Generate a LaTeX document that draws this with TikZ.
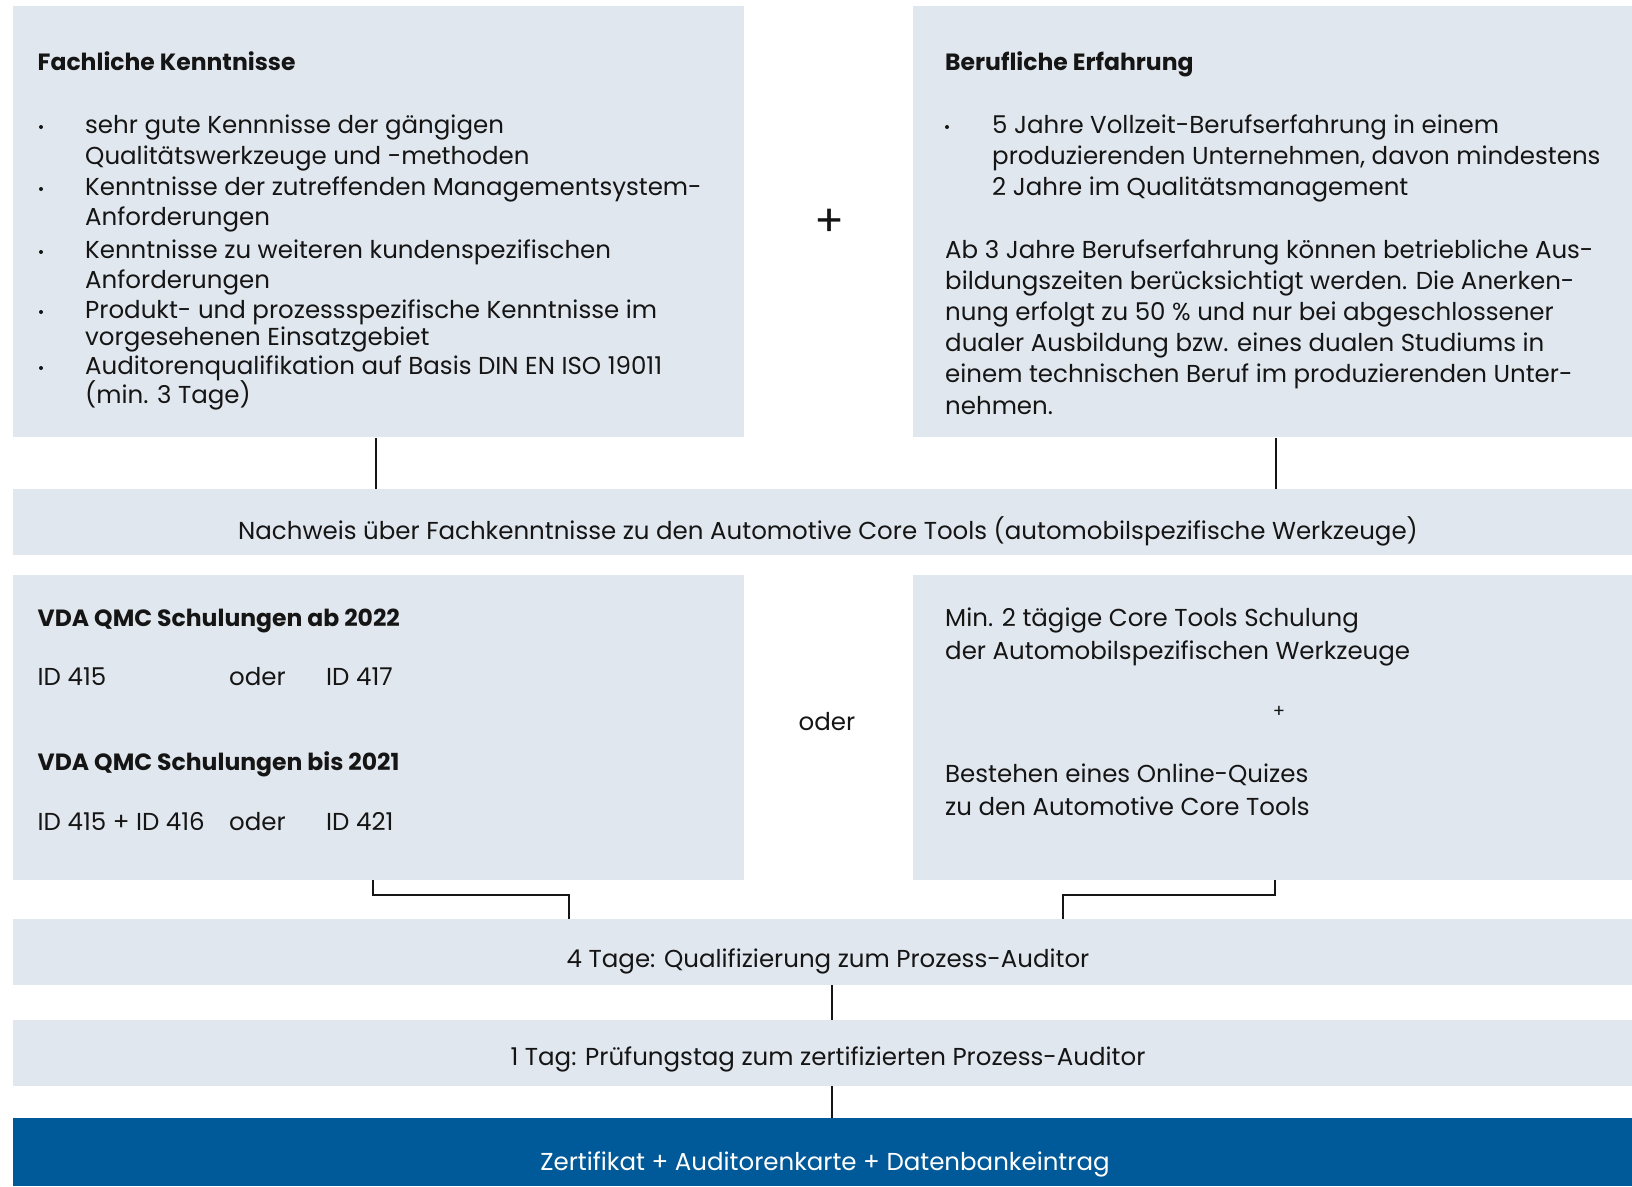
\documentclass[tikz,border=0pt]{standalone}
\usepackage{fontspec}
\setmainfont{Poppins}
\definecolor{boxgray}{HTML}{E1E7EE}
\definecolor{boxblue}{HTML}{005A9A}
\definecolor{ink}{HTML}{151515}
\begin{document}
\begin{tikzpicture}[x=1pt,y=-1pt,
  box/.style={fill=boxgray,draw=none,anchor=north west,inner sep=0pt},
  bluebox/.style={fill=boxblue,draw=none,anchor=north west,inner sep=0pt},
  txt/.style={anchor=base west,inner sep=0pt,text=ink,font=\fontsize{24.5}{30}\selectfont},
  ttl/.style={txt,font=\fontsize{23.5}{30}\selectfont\bfseries},
  ctr/.style={anchor=base,inner sep=0pt,text=ink,font=\fontsize{24.5}{30}\selectfont},
  dot/.style={circle,fill=ink,inner sep=0pt,minimum size=4pt},
  conn/.style={draw=ink,line width=1.6pt}]
\useasboundingbox (0,0) rectangle (1632,1186);
% boxes
\node[box,minimum width=731.5pt,minimum height=431pt] (A) at (12.5,6.2) {};
\node[box,minimum width=719pt,minimum height=431pt] (B) at (913,6.2) {};
\node[box,minimum width=1619.5pt,minimum height=66pt] (C) at (12.5,489) {};
\node[box,minimum width=731.5pt,minimum height=305pt] (D) at (12.5,575) {};
\node[box,minimum width=719pt,minimum height=305pt] (E) at (913,575) {};
\node[box,minimum width=1619.5pt,minimum height=66pt] (F) at (12.5,919) {};
\node[box,minimum width=1619.5pt,minimum height=66pt] (G) at (12.5,1020) {};
\node[bluebox,minimum width=1619.5pt,minimum height=68pt] (H) at (12.5,1118) {};
% box A text
\node[ttl] (a0) at (37.5,70) {Fachliche Kenntnisse};
\node[dot] (ad1) at (41,127) {};
\node[txt] (a1) at (85,133) {sehr gute Kennnisse der gängigen};
\node[txt] (a2) at (85,164) {Qualitätswerkzeuge und -methoden};
\node[dot] (ad2) at (41,189) {};
\node[txt] (a3) at (85,195) {Kenntnisse der zutreffenden Managementsystem-};
\node[txt] (a4) at (85,225.5) {Anforderungen};
\node[dot] (ad3) at (41,252) {};
\node[txt] (a5) at (85,258) {Kenntnisse zu weiteren kundenspezifischen};
\node[txt] (a6) at (85,288) {Anforderungen};
\node[dot] (ad4) at (41,312) {};
\node[txt] (a7) at (85,318) {Produkt- und prozessspezifische Kenntnisse im};
\node[txt] (a8) at (85,345) {vorgesehenen Einsatzgebiet};
\node[dot] (ad5) at (41,368) {};
\node[txt] (a9) at (85,374) {Auditorenqualifikation auf Basis DIN EN ISO 19011};
\node[txt] (a10) at (85,403.5) {(min. 3 Tage)};
% plus
\node[anchor=center,inner sep=0pt,text=ink,font=\fontsize{44}{48}\selectfont] (plus) at (830,223) {+};
% box B text
\node[ttl] (b0) at (945,70) {Berufliche Erfahrung};
\node[dot] (bd1) at (947,127) {};
\node[txt] (b1) at (992,133) {5 Jahre Vollzeit-Berufserfahrung in einem};
\node[txt] (b2) at (992,164) {produzierenden Unternehmen, davon mindestens};
\node[txt] (b3) at (992,195) {2 Jahre im Qualitätsmanagement};
\node[txt] (b4) at (945,258) {Ab 3 Jahre Berufserfahrung können betriebliche Aus-};
\node[txt] (b5) at (945,289) {bildungszeiten berücksichtigt werden. Die Anerken-};
\node[txt] (b6) at (945,320) {nung erfolgt zu 50 \% und nur bei abgeschlossener};
\node[txt] (b7) at (945,351.5) {dualer Ausbildung bzw. eines dualen Studiums in};
\node[txt] (b8) at (945,382) {einem technischen Beruf im produzierenden Unter-};
\node[txt] (b9) at (945,414) {nehmen.};
% box C text
\node[ctr] (c0) at (828,539.5) {Nachweis über Fachkenntnisse zu den Automotive Core Tools (automobilspezifische Werkzeuge)};
% box D text
\node[ttl] (d0) at (37.5,626.7) {VDA QMC Schulungen ab 2022};
\node[txt] (d1) at (37.5,685) {ID 415};
\node[txt] (d2) at (229,685) {oder};
\node[txt] (d3) at (326,685) {ID 417};
\node[ttl] (d4) at (37.5,770.5) {VDA QMC Schulungen bis 2021};
\node[txt] (d5) at (37.5,830.5) {ID 415 + ID 416};
\node[txt] (d6) at (229,830.5) {oder};
\node[txt] (d7) at (326,830.5) {ID 421};
% oder middle
\node[ctr] (oder) at (827,730) {oder};
% box E text
\node[txt] (e1) at (945,626.7) {Min. 2 tägige Core Tools Schulung};
\node[txt] (e2) at (945,659) {der Automobilspezifischen Werkzeuge};
\node[anchor=center,inner sep=0pt,text=ink,font=\fontsize{18}{20}\selectfont] (e3) at (1279,712) {+};
\node[txt] (e4) at (945,782.5) {Bestehen eines Online-Quizes};
\node[txt] (e5) at (945,815) {zu den Automotive Core Tools};
% lower texts
\node[ctr] (f0) at (828,967) {4 Tage: Qualifizierung zum Prozess-Auditor};
\node[ctr] (g0) at (828,1065.5) {1 Tag: Prüfungstag zum zertifizierten Prozess-Auditor};
\node[ctr,text=white] (h0) at (825,1170) {Zertifikat + Auditorenkarte + Datenbankeintrag};
% connectors
\coordinate (xl) at (376,0);
\coordinate (xr) at (1276,0);
\coordinate (dl) at (373,895);
\coordinate (fl) at (569,895);
\coordinate (dr) at (1275,895);
\coordinate (fr) at (1063,895);
\coordinate (xm) at (832,0);
\draw[conn] (xl |- A.south) -- (xl |- C.north);
\draw[conn] (xr |- B.south) -- (xr |- C.north);
\draw[conn] (dl |- D.south) -- (dl) -- (fl) -- (fl |- F.north);
\draw[conn] (dr |- E.south) -- (dr) -- (fr) -- (fr |- F.north);
\draw[conn] (xm |- F.south) -- (xm |- G.north);
\draw[conn] (xm |- G.south) -- (xm |- H.north);
\end{tikzpicture}
\end{document}
